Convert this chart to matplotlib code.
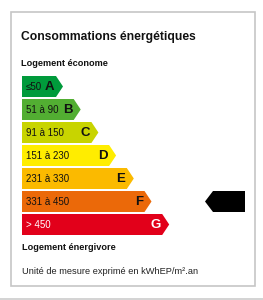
import matplotlib
matplotlib.use("Agg")
import matplotlib.pyplot as plt
from matplotlib.patches import Polygon, Rectangle

plt.rcParams['font.family'] = ['Liberation Sans', 'DejaVu Sans']

# classes energie
letters = ['A', 'B', 'C', 'D', 'E', 'F', 'G']
ranges = ['≤50', '51 à 90', '91 à 150', '151 à 230', '231 à 330', '331 à 450', '> 450']
colors = ['#009a3b', '#52ae32', '#c8d400', '#ffed00', '#fbba00', '#eb6909', '#e2001a']
text_colors = ['#111111'] * 6 + ['#ffffff']
current = 'F'

title = 'Consommations énergétiques'
top_label = 'Logement économe'
bottom_label = 'Logement énergivore'
unit_label = 'Unité de mesure exprimé en kWhEP/m².an'

W, H = 263, 300
fig = plt.figure(figsize=(W / 100, H / 100), dpi=100)
ax = fig.add_axes([0, 0, 1, 1])
ax.set_xlim(0, W)
ax.set_ylim(H, 0)
ax.axis('off')

# cadre
ax.add_patch(Rectangle((11, 12), 244, 274, fill=False, edgecolor='#c6c6c6', lw=1.2))
ax.plot([0, W], [298.5, 298.5], color='#cccccc', lw=1.2)

ax.text(21, 37, title, fontsize=8.7, fontweight='bold', va='center', ha='left', color='#111111')
ax.text(21, 64, top_label, fontsize=6.6, fontweight='bold', va='center', ha='left', color='#111111')

x0 = 22
y0 = 76
pitch = 23
bh = 21
tip = 7
for i, (let, rng, col, tcol) in enumerate(zip(letters, ranges, colors, text_colors)):
    top = y0 + i * pitch
    right = 63 + i * 17.7
    body = right - tip
    pts = [(x0, top), (body, top), (right, top + bh / 2), (body, top + bh), (x0, top + bh)]
    ax.add_patch(Polygon(pts, closed=True, facecolor=col, edgecolor='none'))
    ax.text(x0 + 3.5, top + bh / 2 + 0.5, rng, fontsize=7, va='center', ha='left', color=tcol)
    ax.text(body - 1.5, top + bh / 2 + 0.5, let, fontsize=9.5, fontweight='bold',
            va='center', ha='right', color=tcol)
    if let == current:
        # fleche de la classe du logement
        ax.add_patch(Polygon([(205, top + bh / 2), (213, top), (245, top), (245, top + bh),
                              (213, top + bh)], closed=True, facecolor='black', edgecolor='none'))

ax.text(22, 247, bottom_label, fontsize=6.6, fontweight='bold', va='center', ha='left', color='#111111')
ax.text(22, 272, unit_label, fontsize=6.7, va='center', ha='left', color='#222222')

fig.savefig('out.png', dpi=100)
